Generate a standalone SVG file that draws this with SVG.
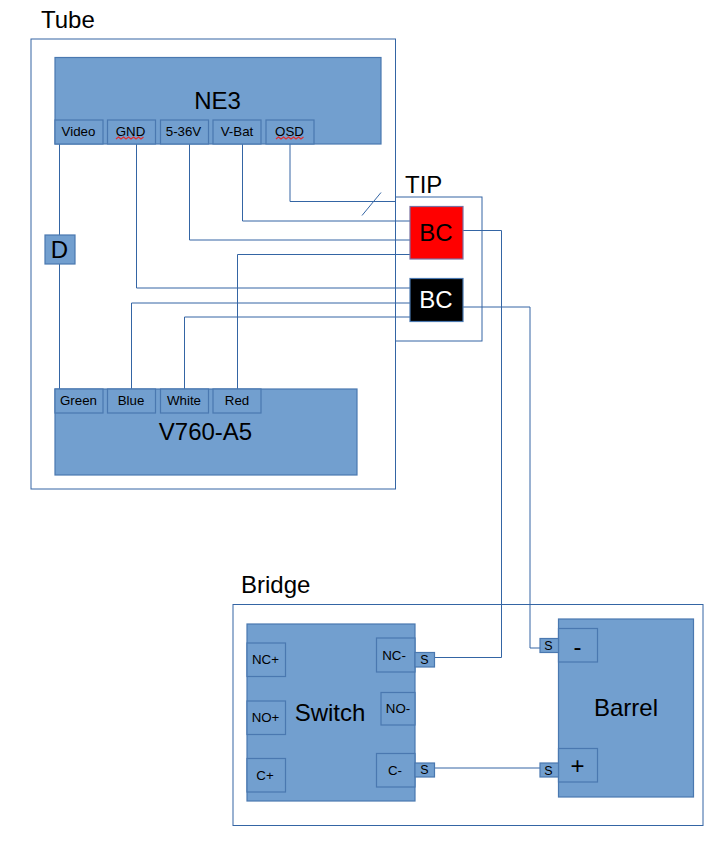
<svg xmlns="http://www.w3.org/2000/svg" width="725" height="841" viewBox="0 0 725 841">
<style>
text{font-family:"Liberation Sans",Arial,sans-serif;fill:#000;text-anchor:middle}
.big{font-size:24px}
.port{font-size:13.300px}
.sm{font-size:12.500px}
.title{font-size:24px;text-anchor:start}
.frame{fill:#fff;stroke:#3465a4;stroke-width:1}
.box{fill:#729fcf;stroke:#4a78b0;stroke-width:1.200}
.wire{fill:none;stroke:#3465a4;stroke-width:1}
.sq{fill:none;stroke:#e03030;stroke-width:1.200}
</style>
<g id="tube"><rect class="frame" x="31" y="39" width="364.500" height="450"/><text class="title" x="41" y="28">Tube</text></g>
<g id="bridge"><rect class="frame" x="233" y="604.500" width="470" height="221"/><text class="title" x="241" y="593">Bridge</text></g>
<g id="tip"><rect class="frame" style="fill:none" x="395.500" y="197" width="86.500" height="144"/><text class="title" x="405" y="193">TIP</text></g>
<g id="connectors">
<path class="wire" d="M59.500 144V389"/>
<path class="wire" d="M136.500 144V288H410"/>
<path class="wire" d="M189.500 144V240H410"/>
<path class="wire" d="M242.500 144V221H410"/>
<path class="wire" d="M290 144V201.500H395.500"/>
<path class="wire" d="M362 215.500L381 192.500"/>
<path class="wire" d="M237.500 389V254.500H410"/>
<path class="wire" d="M131.500 389V303H410"/>
<path class="wire" d="M184.500 389V317H410"/>
<path class="wire" d="M463 230.500H501.500V657.500H434.500"/>
<path class="wire" d="M463 307H530V648H540"/>
<path class="wire" d="M434.500 768H540"/>
</g>
<g id="ne3"><rect class="box" x="55" y="57.500" width="326" height="86.500"/><text class="big" x="217.500" y="109">NE3</text></g>
<g id="ne3-video"><rect class="box" x="55" y="120" width="48" height="24"/><text class="port" x="78.500" y="136">Video</text></g>
<g id="ne3-gnd"><rect class="box" x="107.500" y="120" width="48" height="24"/><text class="port" x="130.500" y="136">GND</text><path class="sq" d="M116 139l2.500-2 2.500 2 2.500-2 2.500 2 2.500-2 2.500 2 2.500-2 2.500 2 2.500-2 2.500 2 2.500-2"/></g>
<g id="ne3-5-36v"><rect class="box" x="160.500" y="120" width="48" height="24"/><text class="port" x="183.500" y="136">5-36V</text></g>
<g id="ne3-vbat"><rect class="box" x="213" y="120" width="48" height="24"/><text class="port" x="237" y="136">V-Bat</text></g>
<g id="ne3-osd"><rect class="box" x="266" y="120" width="48" height="24"/><text class="port" x="289.500" y="136">OSD</text><path class="sq" d="M276 139l2.500-2 2.500 2 2.500-2 2.500 2 2.500-2 2.500 2 2.500-2 2.500 2 2.500-2 2.500 2 2.500-2"/></g>
<g id="diode"><rect class="box" x="45" y="235" width="30" height="29"/><text class="big" x="59.500" y="258">D</text></g>
<g id="bc-red"><rect x="410" y="206.500" width="53" height="52.500" fill="#ff0000" stroke="#7a6fa0" stroke-width="1.200"/><text class="big" x="436" y="241">BC</text></g>
<g id="bc-black"><rect x="410" y="278.500" width="53" height="43" fill="#000" stroke="#4a78b0" stroke-width="1.200"/><text class="big" style="fill:#fff" x="436" y="308">BC</text></g>
<g id="v760"><rect class="box" x="55" y="389" width="302" height="86"/><text class="big" x="205.500" y="440">V760-A5</text></g>
<g id="v760-green"><rect class="box" x="55" y="389" width="48" height="24"/><text class="port" x="78.500" y="405">Green</text></g>
<g id="v760-blue"><rect class="box" x="107.500" y="389" width="48" height="24"/><text class="port" x="131" y="405">Blue</text></g>
<g id="v760-white"><rect class="box" x="160.500" y="389" width="48" height="24"/><text class="port" x="184" y="405">White</text></g>
<g id="v760-red"><rect class="box" x="213" y="389" width="48" height="24"/><text class="port" x="237" y="405">Red</text></g>
<g id="switch"><rect class="box" x="247" y="624" width="168" height="177"/><text class="big" x="330" y="721">Switch</text></g>
<g id="sw-ncp"><rect class="box" x="247" y="643" width="38.500" height="33.500"/><text class="port" x="265.500" y="664">NC+</text></g>
<g id="sw-nop"><rect class="box" x="247" y="701" width="38.500" height="33.500"/><text class="port" x="265.500" y="722">NO+</text></g>
<g id="sw-cp"><rect class="box" x="247" y="758.500" width="38.500" height="33.500"/><text class="port" x="265" y="780">C+</text></g>
<g id="sw-ncm"><rect class="box" x="376.500" y="638" width="38.500" height="34"/><text class="port" x="394" y="660">NC-</text></g>
<g id="sw-nom"><rect class="box" x="381" y="692.500" width="34" height="32.500"/><text class="port" x="398" y="713">NO-</text></g>
<g id="sw-cm"><rect class="box" x="376.500" y="753.500" width="38.500" height="33.500"/><text class="port" x="395" y="775">C-</text></g>
<g id="sw-s1"><rect class="box" x="415" y="652.500" width="19.500" height="14.500"/><text class="sm" x="424.500" y="664">S</text></g>
<g id="sw-s2"><rect class="box" x="415" y="763" width="19.500" height="14"/><text class="sm" x="424.500" y="774">S</text></g>
<g id="barrel"><rect class="box" x="558.500" y="619" width="135" height="178"/><text class="big" x="626" y="716">Barrel</text></g>
<g id="barrel-minus"><rect class="box" x="558.500" y="628.500" width="39" height="33.500"/><text class="big" x="577.500" y="655">-</text></g>
<g id="barrel-plus"><rect class="box" x="558.500" y="748.500" width="39" height="33.500"/><text class="big" x="577.500" y="774">+</text></g>
<g id="barrel-s1"><rect class="box" x="540" y="638.500" width="18.500" height="14"/><text class="sm" x="548.500" y="650">S</text></g>
<g id="barrel-s2"><rect class="box" x="540" y="763" width="18.500" height="14"/><text class="sm" x="548.500" y="775">S</text></g>
</svg>
